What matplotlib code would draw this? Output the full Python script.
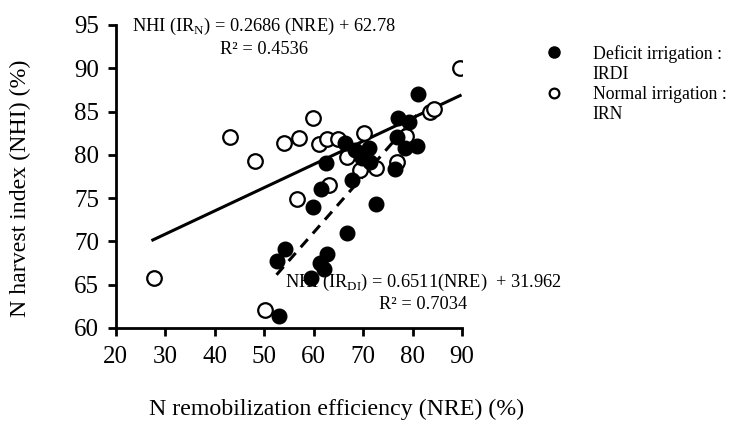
import numpy as np
import matplotlib
matplotlib.use('Agg')
import matplotlib.pyplot as plt
from matplotlib.lines import Line2D

plt.rcParams['font.family'] = ['Liberation Serif', 'DejaVu Serif']
plt.rcParams['mathtext.fontset'] = 'custom'
plt.rcParams['mathtext.rm'] = 'Liberation Serif'

# Deficit irrigation (IRDI)
nre_di = [52.9, 52.5, 54.2, 59.4, 59.9, 61.3, 62.1, 62.6, 61.4, 62.4,
          66.4, 66.7, 67.7, 68.4, 69.7, 71.1, 71.4, 72.6, 76.5, 76.8,
          77.1, 78.5, 79.2, 80.9, 81.0]
nhi_di = [61.4, 67.7, 69.1, 65.8, 74.0, 67.5, 66.8, 68.6, 76.1, 79.1,
          81.4, 71.0, 77.1, 80.6, 79.6, 80.8, 79.2, 74.3, 78.4, 82.1,
          84.2, 80.8, 83.8, 81.0, 87.0]

# Normal irrigation (IRN)
nre_n = [27.7, 43.1, 48.1, 50.2, 54.0, 56.6, 57.0, 59.8, 61.0, 62.7,
         63.1, 65.0, 66.7, 69.4, 70.1, 72.6, 76.9, 78.6, 83.6, 84.4, 89.6]
nhi_n = [65.8, 82.1, 79.3, 62.1, 81.4, 74.9, 81.9, 84.2, 81.2, 81.8,
         76.5, 81.8, 79.8, 78.3, 82.5, 78.5, 79.2, 82.2, 85.0, 85.3, 90.0]

# regression lines
slope_n, icpt_n = 0.2686, 62.78
slope_di, icpt_di = 0.6511, 31.962
fit_range_n = [27.5, 89.6]
fit_range_di = [52.5, 81.0]

fig = plt.figure(figsize=(7.37, 4.23), dpi=100)
ax = fig.add_axes([0.157, 0.2246, 0.47, 0.7164])

x_n = np.array(fit_range_n)
ax.plot(x_n, slope_n * x_n + icpt_n, color='black', linewidth=2.2, zorder=2)
x_di = np.array(fit_range_di)
ax.plot(x_di, slope_di * x_di + icpt_di, color='black', linewidth=2.2,
        linestyle=(0, (3.5, 2.5)), zorder=2)

ax.plot(nre_n, nhi_n, linestyle='none', marker='o', markersize=10.5,
        markerfacecolor='white', markeredgecolor='black', markeredgewidth=1.6, zorder=3)
ax.plot(nre_di, nhi_di, linestyle='none', marker='o', markersize=10.5,
        markerfacecolor='black', markeredgecolor='black', zorder=4)

ax.text(50, 94.8, 'NHI (IR$_{\\mathrm{N}}$) = 0.2686 (NRE) + 62.78', fontsize=13.2,
        ha='center', va='center', zorder=1)
ax.text(50, 92.2, 'R² = 0.4536', fontsize=13.2, ha='center', va='center', zorder=1)
ax.text(82.1, 65.3, 'NHI (IR$_{\\mathrm{DI}}$) = 0.6511(NRE)  + 31.962', fontsize=13.2,
        ha='center', va='center', zorder=1, clip_on=False)
ax.text(82.1, 62.7, 'R² = 0.7034', fontsize=13.2, ha='center', va='center',
        zorder=1, clip_on=False)

ax.set_xlim(20, 90)
ax.set_ylim(60, 95)
ax.set_xticks(range(20, 91, 10))
ax.set_yticks(range(60, 96, 5))
ax.tick_params(labelsize=18, width=2, length=6, direction='out')
ax.tick_params(axis='x', pad=7)
ax.tick_params(axis='y', pad=6)
for side in ['top', 'right']:
    ax.spines[side].set_visible(False)
for side in ['left', 'bottom']:
    ax.spines[side].set_linewidth(2)

ax.set_xlabel('N remobilization efficiency (NRE) (%)', fontsize=17.2)
ax.set_ylabel('N harvest index (NHI) (%)', fontsize=17.2)
ax.xaxis.set_label_coords(0.637, -0.235)
ax.yaxis.set_label_coords(-0.245, 0.46)

# legend: marker on first line of each two-line label
handles = [
    Line2D([], [], linestyle='none', marker='o', markersize=8,
           markerfacecolor='black', markeredgecolor='black'),
    Line2D([], [], linestyle='none'),
    Line2D([], [], linestyle='none', marker='o', markersize=7,
           markerfacecolor='white', markeredgecolor='black', markeredgewidth=1.6),
    Line2D([], [], linestyle='none'),
]
labels = ['Deficit irrigation :', 'IRDI', 'Normal irrigation :', 'IRN']
fig.legend(handles, labels, loc='upper left', bbox_to_anchor=(0.727, 0.915),
           frameon=False, fontsize=12.8, labelspacing=0.18, handletextpad=1.7,
           handlelength=1.0, borderpad=0)

fig.savefig('out.png', dpi=100)
